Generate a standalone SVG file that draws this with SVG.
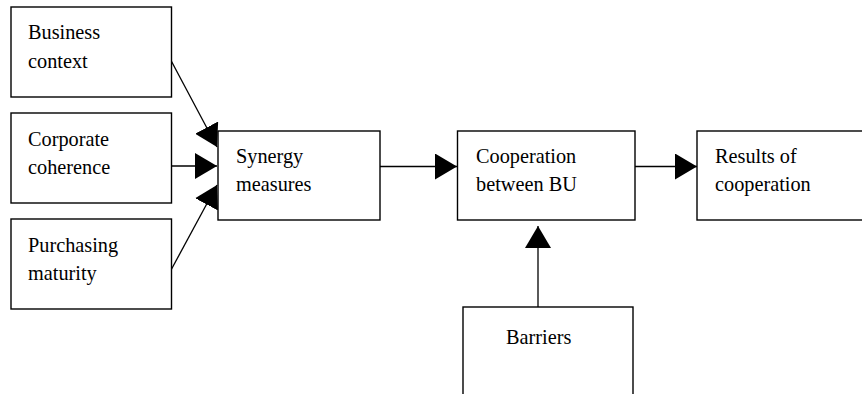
<svg xmlns="http://www.w3.org/2000/svg" width="862" height="394" viewBox="0 0 862 394">
  <style>
    .box { fill: #ffffff; stroke: #000000; stroke-width: 1.4; }
    .label { font-family: 'Liberation Serif', 'Times New Roman', serif; font-size: 20.3px; fill: #000000; }
    .conn { fill: none; stroke: #000000; stroke-width: 1.3; marker-end: url(#head); }
  </style>
  <defs>
    <marker id="head" markerUnits="userSpaceOnUse" markerWidth="22" markerHeight="26" refX="22" refY="13" orient="auto">
      <path d="M0,0 L22,13 L0,26 Z" fill="#000000"/>
    </marker>
  </defs>
  <rect width="862" height="394" fill="#ffffff"/>

  <g id="connectors">
    <line class="conn" x1="170.5" y1="59.5" x2="217" y2="147"/>
    <line class="conn" x1="170.5" y1="166" x2="217" y2="166"/>
    <line class="conn" x1="170.5" y1="271" x2="217" y2="185"/>
    <line class="conn" x1="378" y1="166.5" x2="457" y2="166.5"/>
    <line class="conn" x1="633" y1="166.5" x2="697" y2="166.5"/>
    <line class="conn" x1="538" y1="307" x2="538" y2="226"/>
  </g>

  <g id="business-context">
    <rect class="box" x="11" y="7" width="160.5" height="90"/>
    <text class="label" x="28" y="39">Business</text>
    <text class="label" x="28" y="67.5">context</text>
  </g>
  <g id="corporate-coherence">
    <rect class="box" x="11" y="113" width="160.5" height="90"/>
    <text class="label" x="28" y="145.5">Corporate</text>
    <text class="label" x="28" y="174">coherence</text>
  </g>
  <g id="purchasing-maturity">
    <rect class="box" x="11" y="219" width="160.5" height="90"/>
    <text class="label" x="28" y="251.5">Purchasing</text>
    <text class="label" x="28" y="279.5">maturity</text>
  </g>
  <g id="synergy-measures">
    <rect class="box" x="218" y="131" width="162" height="89"/>
    <text class="label" x="236" y="163">Synergy</text>
    <text class="label" x="236" y="191">measures</text>
  </g>
  <g id="cooperation-between-bu">
    <rect class="box" x="457.5" y="131" width="177.5" height="89"/>
    <text class="label" x="476" y="163">Cooperation</text>
    <text class="label" x="476" y="191">between BU</text>
  </g>
  <g id="results-of-cooperation">
    <rect class="box" x="697" y="131" width="200" height="89"/>
    <text class="label" x="715" y="163">Results of</text>
    <text class="label" x="715" y="191">cooperation</text>
  </g>
  <g id="barriers">
    <rect class="box" x="463" y="307" width="170" height="120"/>
    <text class="label" x="506" y="344">Barriers</text>
  </g>
</svg>
